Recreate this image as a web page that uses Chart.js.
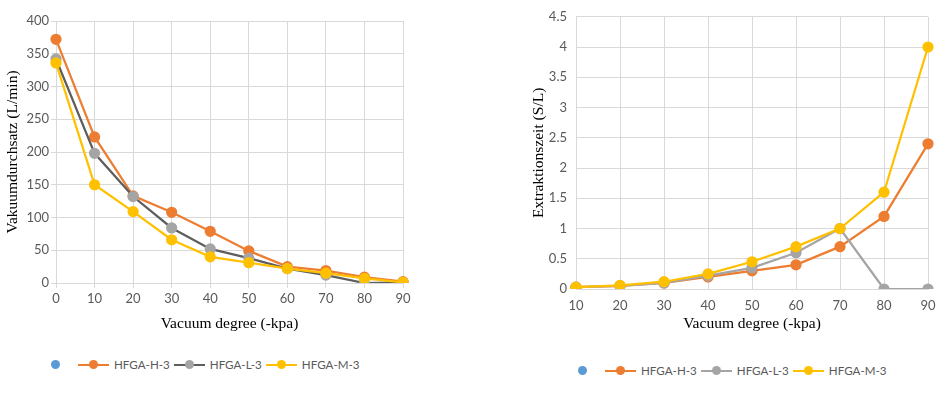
<!DOCTYPE html>
<html>
<head>
<meta charset="utf-8">
<script src="https://cdn.jsdelivr.net/npm/chart.js@4.4.1/dist/chart.umd.min.js"></script>
<style>
    body { margin: 0; background: #fff; width: 945px; height: 396px; position: relative; overflow: hidden; }
    canvas { position: absolute; top: 0; }
    .legend { position: absolute; display: flex; align-items: center; font-family: Lato, sans-serif; font-size: 11.6px; color: #595959; }
    .dot { width: 9px; height: 9px; border-radius: 50%; display: inline-block; }
    .key { position: relative; width: 31px; height: 9px; margin-left: 4px; margin-right: 5px; }
    .key .ln { position: absolute; left: 0; right: 0; top: 3.5px; height: 2px; }
    .key .dot { position: absolute; left: 11px; top: 0; }
</style>
</head>
<body>
<canvas id="flowChart" width="420" height="340" style="left:0px"></canvas>
<canvas id="timeChart" width="465" height="340" style="left:480px"></canvas>
<div class="legend" id="flowLegend" style="left:51px; top:358px"></div>
<div class="legend" id="timeLegend" style="left:578px; top:364px"></div>
<script>
// left chart: vacuum flow rate
const flowDegrees = ["0", "10", "20", "30", "40", "50", "60", "70", "80", "90"];
const flowH = [372, 223, 133, 108, 79, 49, 25, 19, 9, 2];
const flowL = [342, 198, 132, 84, 52, 38, 22, 12, 0, 1];
const flowM = [336, 150, 109, 66, 40, 31, 22, 15, 7, 1];

// right chart: extraction time
const timeDegrees = ["10", "20", "30", "40", "50", "60", "70", "80", "90"];
const timeH = [0.03, 0.05, 0.1, 0.2, 0.3, 0.4, 0.7, 1.2, 2.4];
const timeL = [0.03, 0.05, 0.1, 0.22, 0.35, 0.6, 1.0, 0, 0];
const timeM = [0.03, 0.06, 0.12, 0.25, 0.45, 0.7, 1.0, 1.6, 4.0];

const seriesNames = ["HFGA-H-3", "HFGA-L-3", "HFGA-M-3"];

const ORANGE = "#ED7D31";
const GRAY = "#A5A5A5";
const DARK_GRAY = "#5E5E5E";
const YELLOW = "#FFC000";
const BLUE = "#5B9BD5";
const GRID = "#D9D9D9";
const TICK = "#595959";

const tickFont = { family: "Lato, sans-serif", size: 13 };
const titleFont = { family: "'Liberation Serif', serif", size: 15.5 };

function makeSet(label, data, lineColor, pointColor, order) {
    return {
        label: label,
        data: data,
        borderColor: lineColor,
        backgroundColor: pointColor,
        pointBackgroundColor: pointColor,
        pointBorderColor: pointColor,
        borderWidth: 2.25,
        pointRadius: 4.5,
        pointHoverRadius: 4.5,
        fill: false,
        tension: 0,
        order: order
    };
}

function buildChart(id, labels, datasets, opts) {
    const ctx = document.getElementById(id).getContext("2d");
    return new Chart(ctx, {
        type: "line",
        data: { labels, datasets },
        options: {
            responsive: false,
            animation: false,
            devicePixelRatio: 1,
            layout: { padding: { top: opts.top, right: opts.right, bottom: 0, left: 0 } },
            plugins: { legend: { display: false }, tooltip: { enabled: false } },
            scales: {
                x: {
                    offset: false,
                    grid: { color: GRID, lineWidth: 1, drawTicks: opts.ticks, tickLength: 5, tickColor: GRID },
                    border: { color: GRID },
                    ticks: { color: TICK, font: tickFont, padding: opts.xPad, maxRotation: 0, autoSkip: false },
                    title: { display: true, text: "Vacuum degree (-kpa)", color: "#000", font: titleFont, padding: { top: 0, bottom: opts.xTitlePad } },
                    afterFit: s => { s.height = opts.xHeight; }
                },
                y: {
                    min: 0,
                    max: opts.yMax,
                    grid: { color: GRID, lineWidth: 1, drawTicks: opts.ticks, tickLength: 5, tickColor: GRID },
                    border: { color: GRID },
                    ticks: { color: TICK, font: tickFont, padding: opts.yPad, stepSize: opts.yStep, callback: v => String(v) },
                    title: { display: true, text: opts.yTitle, color: "#000", font: titleFont, padding: { top: opts.yTitlePad, bottom: 0 } },
                    afterFit: s => { s.width = opts.yWidth; }
                }
            }
        }
    });
}

buildChart("flowChart", flowDegrees, [
    makeSet(seriesNames[0], flowH, ORANGE, ORANGE, 3),
    makeSet(seriesNames[1], flowL, DARK_GRAY, GRAY, 2),
    makeSet(seriesNames[2], flowM, YELLOW, YELLOW, 1)
], { top: 21, right: 17, xHeight: 57, yWidth: 56, yMax: 400, yStep: 50, ticks: true,
     xPad: 3, yPad: 2, xTitlePad: 7, yTitlePad: 4, yTitle: "Vakuumdurchsatz (L/min)" });

buildChart("timeChart", timeDegrees, [
    makeSet(seriesNames[0], timeH, ORANGE, ORANGE, 3),
    makeSet(seriesNames[1], timeL, GRAY, GRAY, 2),
    makeSet(seriesNames[2], timeM, YELLOW, YELLOW, 1)
], { top: 15, right: 17, xHeight: 51, yWidth: 96, yMax: 4.5, yStep: 0.5, ticks: false,
     xPad: 9, yPad: 9, xTitlePad: 7, yTitlePad: 50, yTitle: "Extraktionszeit (S/L)" });

function buildLegend(id, keys) {
    const box = document.getElementById(id);
    const blank = document.createElement("span");
    blank.className = "dot";
    blank.style.background = BLUE;
    blank.style.marginRight = "14px";
    box.appendChild(blank);
    keys.forEach(k => {
        const key = document.createElement("span");
        key.className = "key";
        key.innerHTML = '<span class="ln" style="background:' + k.line + '"></span>' +
            '<span class="dot" style="background:' + k.point + '"></span>';
        box.appendChild(key);
        const txt = document.createElement("span");
        txt.textContent = k.label;
        box.appendChild(txt);
    });
}

buildLegend("flowLegend", [
    { label: seriesNames[0], line: ORANGE, point: ORANGE },
    { label: seriesNames[1], line: DARK_GRAY, point: GRAY },
    { label: seriesNames[2], line: YELLOW, point: YELLOW }
]);
buildLegend("timeLegend", [
    { label: seriesNames[0], line: ORANGE, point: ORANGE },
    { label: seriesNames[1], line: GRAY, point: GRAY },
    { label: seriesNames[2], line: YELLOW, point: YELLOW }
]);
</script>
</body>
</html>
